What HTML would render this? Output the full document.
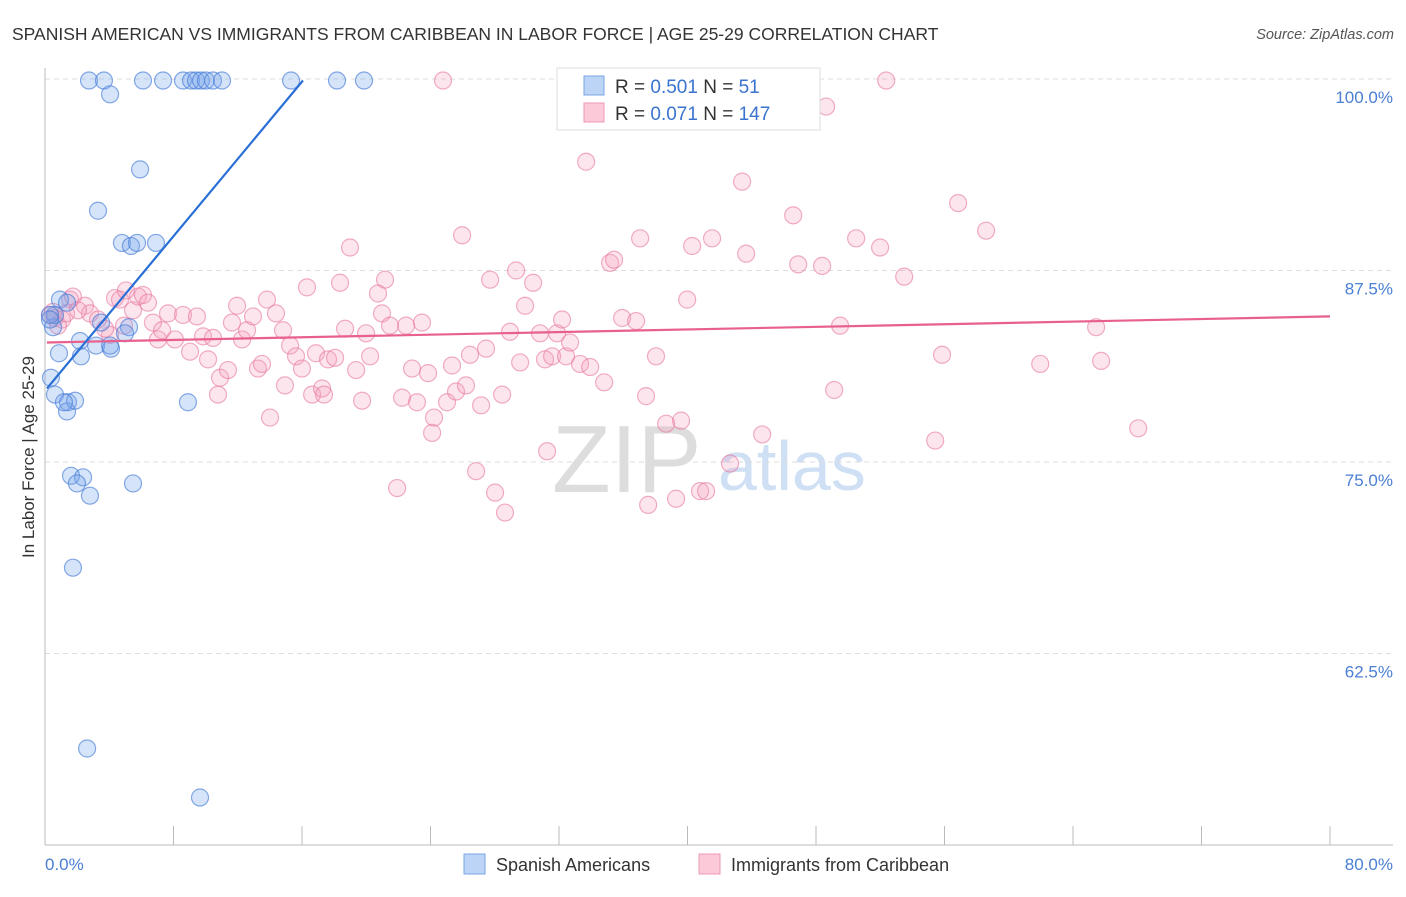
<!DOCTYPE html>
<html><head><meta charset="utf-8"><style>
body{margin:0;background:#fff;font-family:"Liberation Sans",sans-serif}
svg text{font-family:"Liberation Sans",sans-serif}
</style></head><body>
<svg id="chart" width="1406" height="892" xmlns="http://www.w3.org/2000/svg">
<text x="12" y="40" font-size="17.5" fill="#333">SPANISH AMERICAN VS IMMIGRANTS FROM CARIBBEAN IN LABOR FORCE | AGE 25-29 CORRELATION CHART</text>
<text x="1394" y="39" font-size="14.5" fill="#555" font-style="italic" text-anchor="end">Source: ZipAtlas.com</text>
<g>
<text x="552" y="492" font-size="96" font-family="Liberation Serif" fill="#ddd">ZIP</text>
<text x="718" y="490" font-size="70" fill="#cfe0f5">atlas</text>
</g>
<g id="grid"></g>
<g id="axes"></g>
<g id="pts"></g>
<g id="trends"></g>
<g>
<rect x="557" y="68" width="263" height="62" fill="#fff" stroke="#ddd"/>
<rect x="584" y="76" width="20" height="19" fill="#bcd4f5" stroke="#7aa5e3"/>
<rect x="584" y="103" width="20" height="19" fill="#fcc9d8" stroke="#ee9ab5"/>
<text x="615" y="93" font-size="19" fill="#333">R = <tspan fill="#3a74d0">0.501</tspan>   N = <tspan fill="#3a74d0">  51</tspan></text>
<text x="615" y="120" font-size="19" fill="#333">R = <tspan fill="#3a74d0">0.071</tspan>   N = <tspan fill="#3a74d0">147</tspan></text>
</g>
<g>
<rect x="464" y="854" width="21" height="20" fill="#bcd4f5" stroke="#7aa5e3"/>
<text x="496" y="871" font-size="18" fill="#333">Spanish Americans</text>
<rect x="699" y="854" width="21" height="20" fill="#fcc9d8" stroke="#ee9ab5"/>
<text x="731" y="871" font-size="18" fill="#333">Immigrants from Caribbean</text>
</g>
<text transform="translate(34,457) rotate(-90)" font-size="17" fill="#333" text-anchor="middle">In Labor Force | Age 25-29</text>
</svg>
<script>
const blueX=[2.74,3.67,4.05,6.10,7.35,8.59,9.09,9.40,9.71,10.02,10.46,11.02,15.32,18.18,19.86,5.92,3.30,4.79,5.35,5.73,6.91,0.93,1.37,3.49,5.23,4.98,0.50,0.62,0.31,2.18,3.18,4.11,2.24,0.87,0.37,0.62,1.43,1.37,1.87,8.90,1.62,2.37,1.99,2.80,5.48,1.74,2.62,9.65,4.05,0.31,1.18];
const blueY=[99.9,99.9,99.0,99.9,99.9,99.9,99.9,99.9,99.9,99.9,99.9,99.9,99.9,99.9,99.9,94.1,91.4,89.3,89.1,89.3,89.3,85.6,85.4,84.1,83.8,83.4,83.8,84.6,84.6,82.9,82.6,82.4,81.9,82.1,80.5,79.4,78.9,78.3,79.0,78.9,74.1,74.0,73.6,72.8,73.6,68.1,56.3,53.1,82.6,84.3,78.9];
const pinkX=[0.31,0.62,1.06,1.56,1.74,2.49,2.80,3.30,4.05,4.36,4.67,5.04,5.48,5.79,6.10,6.41,6.72,7.04,7.29,7.66,8.09,8.59,9.03,9.46,9.84,10.15,10.46,10.90,10.77,11.39,11.64,11.96,12.27,12.58,12.95,13.26,13.51,13.82,14.01,14.38,14.82,14.94,15.26,15.63,16.00,16.31,16.63,16.87,17.25,17.37,17.62,18.06,18.37,18.68,18.99,19.37,19.74,19.99,20.24,20.73,20.98,21.17,21.48,21.92,22.23,22.48,22.85,23.16,23.47,23.85,24.10,24.22,24.78,25.03,25.34,25.59,25.97,26.21,26.46,26.84,27.15,27.46,27.71,28.02,28.46,28.64,28.95,29.33,29.58,29.89,30.39,30.82,31.13,31.26,31.57,31.88,32.19,32.44,32.69,33.31,33.69,33.94,34.81,35.18,35.43,35.93,36.80,37.05,37.42,37.55,38.04,38.67,39.29,39.60,39.98,40.29,40.78,41.16,41.53,42.65,43.40,43.65,44.65,46.58,46.89,48.38,48.63,49.13,49.50,50.50,51.99,52.37,53.49,55.42,55.85,56.85,58.59,61.96,65.44,65.75,68.06,0.50,0.81,1.31,2.05,3.74,4.92];
const pinkY=[84.6,84.4,84.3,85.6,85.8,85.2,84.7,84.3,83.3,85.7,85.6,86.2,84.9,85.8,85.9,85.4,84.1,83.0,83.6,84.7,83.0,84.6,82.2,84.5,83.2,81.7,83.1,80.5,79.4,81.0,84.1,85.2,83.0,83.6,84.5,81.1,81.4,85.6,77.9,84.7,83.6,80.0,82.6,81.9,81.1,86.4,79.4,82.1,79.8,79.4,81.7,81.8,86.7,83.7,89.0,81.0,79.0,83.4,81.9,86.0,84.7,86.9,83.9,73.3,79.2,83.9,81.1,78.9,84.1,80.8,76.9,77.9,99.9,78.9,81.3,79.6,89.8,80.0,82.0,74.4,78.7,82.4,86.9,73.0,79.4,71.7,83.5,87.5,81.5,85.2,86.7,83.4,81.7,75.7,81.9,83.4,84.3,81.9,82.8,81.4,94.6,81.2,80.2,88.0,88.2,84.4,84.2,89.6,79.3,72.2,81.9,77.5,72.6,77.7,85.6,89.1,73.1,73.1,89.6,74.9,93.3,88.6,76.8,91.1,87.9,87.8,98.2,79.7,83.9,89.6,89.0,99.9,87.1,76.4,82.0,91.9,90.1,81.4,83.8,81.6,77.2,84.8,83.9,84.7,84.9,83.7,83.9];
const blueTrend=[79.65,1.261,0.12,16.06];
const pinkTrend=[82.8,0.0213,0.12,80];
const yTicks=[100,87.5,75,62.5];
const yTickLabels=["100.0%","87.5%","75.0%","62.5%"];
const xTicks=[0,8,16,24,32,40,48,56,64,72,80];
const NS='http://www.w3.org/2000/svg';
const X0=45,X1=1330,Y100=79,PXPER=15.32;
function sx(v){return X0+(X1-X0)*v/80;}
function sy(v){return Y100+(100-v)*PXPER;}
function mk(tag,attrs,parent){const e=document.createElementNS(NS,tag);for(const k in attrs)e.setAttribute(k,attrs[k]);parent.appendChild(e);return e;}
const grid=document.getElementById('grid'),axes=document.getElementById('axes');
yTicks.forEach((t,i)=>{
 const l=mk('line',{x1:X0,x2:1393,y1:sy(t),y2:sy(t),stroke:'#ddd','stroke-dasharray':'5,4'},grid);
 
 
 const tx=mk('text',{x:1393,y:sy(t)+24,'font-size':17,fill:'#4a7fd4','text-anchor':'end'},axes);
 tx.textContent=yTickLabels[i];
 
 
});
const ax=mk('line',{x1:X0,x2:1393,y1:845,y2:845,stroke:'#bbb'},axes);


const ay=mk('line',{x1:X0,x2:X0,y1:68,y2:845,stroke:'#bbb'},axes);


xTicks.forEach(t=>{
 const l=mk('line',{x1:sx(t),x2:sx(t),y1:826,y2:845,stroke:'#bbb'},axes);
 
 
});
const xl0=mk('text',{x:X0,y:870,'font-size':17,fill:'#4a7fd4'},axes);xl0.textContent=xTicks[0].toFixed(1)+'%';


const xl1=mk('text',{x:1393,y:870,'font-size':17,fill:'#4a7fd4','text-anchor':'end'},axes);xl1.textContent=xTicks[xTicks.length-1].toFixed(1)+'%';


const pts=document.getElementById('pts');
pinkX.forEach((v,i)=>{
 const c=mk('circle',{cx:sx(v),cy:sy(pinkY[i]),r:8.5,fill:'rgba(244,160,190,0.28)',stroke:'rgba(232,120,160,0.6)','stroke-width':1.2},pts);
 
 
});
blueX.forEach((v,i)=>{
 const c=mk('circle',{cx:sx(v),cy:sy(blueY[i]),r:8.5,fill:'rgba(120,165,235,0.3)',stroke:'rgba(70,125,215,0.65)','stroke-width':1.2},pts);
 
 
});
const tr=document.getElementById('trends');
function trend(t,col,name){const l=mk('line',{x1:sx(t[2]),y1:sy(t[0]+t[1]*t[2]),x2:sx(t[3]),y2:sy(t[0]+t[1]*t[3]),stroke:col,'stroke-width':2.2},tr);
 
 }
trend(pinkTrend,'#e8608e','caribbean-trend-line');
trend(blueTrend,'#2a6fd6','spanish-american-trend-line');
</script>
</body></html>
